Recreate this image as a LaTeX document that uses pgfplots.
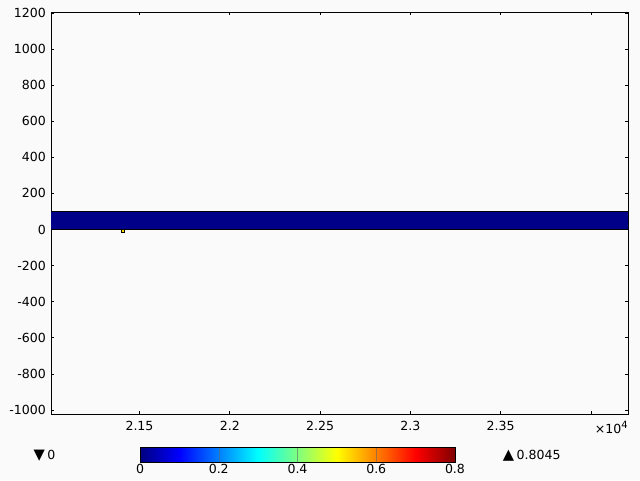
\documentclass[border=0pt]{standalone}
\usepackage{fontspec}
\setmainfont{DejaVu Sans}
\usepackage{pgfplots}
\pgfplotsset{compat=1.18}
\definecolor{bg}{RGB}{250,250,250}
\definecolor{jetlow}{RGB}{0,0,136}
\begin{document}
\fontsize{9.4}{11}\selectfont
\begin{tikzpicture}
  % page = 640 x 480 px, 1 px = 0.75pt
  \fill[bg] (0,0) rectangle (480pt,360pt);
  \begin{axis}[
    at={(38.25pt,49.5pt)}, anchor=south west,
    scale only axis, width=432.75pt, height=301.5pt,
    xmin=21010, xmax=24205,
    ymin=-1022, ymax=1205,
    axis background/.style={fill=bg},
    axis line style={line width=0.7pt},
    tick align=inside,
    major tick length=2.5pt,
    tick style={black, line width=0.6pt},
    xtick={21500,22000,22500,23000,23500,24000},
    xticklabels={2.15,2.2,2.25,2.3,2.35,},
    scaled x ticks=false,
    ytick={-1000,-800,...,1200},
    yticklabels={-1000,-800,-600,-400,-200,0,200,400,600,800,1000,1200},
    tick label style={font=\fontsize{9.4}{11}\selectfont},
    /pgf/number format/assume math mode=true,
    xticklabel style={yshift=-2pt},
    yticklabel style={xshift=-0.5pt},
    clip mode=individual,
    colormap/jet,
    point meta min=0, point meta max=0.8,
    colorbar horizontal,
    colorbar style={
      at={(parent axis.south west)}, anchor=north west,
      xshift=66.75pt, yshift=-16.5pt,
      scale only axis, width=236.25pt, height=11.25pt,
      xtick={0,0.2,0.4,0.6,0.8},
      xticklabels={0,0.2,0.4,0.6,0.8},
      xticklabel style={font=\fontsize{9.4}{11}\selectfont, yshift=2pt},
      /pgf/number format/assume math mode=true,
      major tick length=0pt,
      xmajorgrids, grid style={black!60, line width=0.3pt, opacity=0.6},
      axis line style={line width=0.6pt},
    },
  ]
    \addplot[fill=jetlow, draw=black, line width=0.6pt] coordinates {
      (20900,0) (24300,0) (24300,100) (20900,100) (20900,0)
    };
    \addplot[only marks, mark=square*, mark size=1.1pt,
      mark options={fill=yellow!80!orange, draw=black, line width=0.4pt}]
      coordinates {(21405,-8)};
  \end{axis}
  \node[anchor=base east, inner sep=0pt] at (471pt,35.25pt)
    {×10\raisebox{3.5pt}{\fontsize{7.5}{8}\selectfont 4}};
  \node[anchor=west, inner sep=0pt] at (25pt,18pt) {\fontsize{11}{11}\selectfont▼\,\fontsize{9.4}{11}\selectfont 0};
  \node[anchor=west, inner sep=0pt] at (377pt,18pt) {\fontsize{11}{11}\selectfont▲\,\fontsize{9.4}{11}\selectfont 0.8045};
\end{tikzpicture}
\end{document}
